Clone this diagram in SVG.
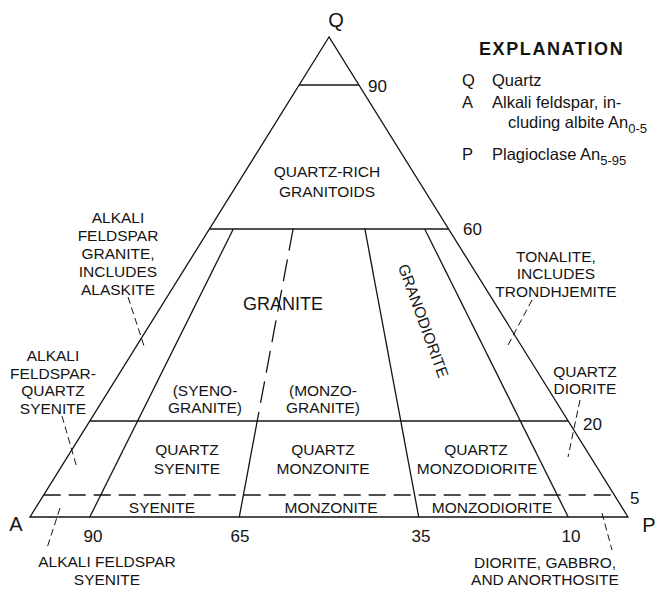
<svg xmlns="http://www.w3.org/2000/svg" width="669" height="594" viewBox="0 0 669 594">
<style>
text{font-family:"Liberation Sans",Arial,sans-serif;fill:#141414}
.l{font-size:15.5px;text-anchor:middle}
.n{font-size:17px}
.nc{font-size:17px;text-anchor:middle}
.v{font-size:20px}
.ex{font-size:16.5px}
.ln{stroke:#141414;stroke-width:1.3;fill:none}
.dash{stroke:#141414;stroke-width:1.3;fill:none;stroke-dasharray:17 8}
.ld{stroke:#141414;stroke-width:1;fill:none;stroke-dasharray:7 4}
</style>
<rect width="669" height="594" fill="#fff"/>
<g id="connectors">
<polygon class="ln" points="329,37 30,517 628,517"/>
<line class="ln" x1="299" y1="85" x2="359" y2="85"/>
<line class="ln" x1="209.4" y1="229" x2="448.6" y2="229"/>
<line class="ln" x1="89.8" y1="421" x2="568.2" y2="421"/>
<line class="dash" x1="43.7" y1="495" x2="614.3" y2="495"/>
<line class="ln" x1="233.3" y1="229" x2="89.8" y2="517"/>
<line class="dash" x1="293.1" y1="229" x2="257.2" y2="421" style="stroke-dasharray:22 9"/>
<line class="ln" x1="257.2" y1="421" x2="239.3" y2="517"/>
<line class="ln" x1="364.9" y1="229" x2="418.7" y2="517"/>
<line class="ln" x1="424.7" y1="229" x2="568.2" y2="517"/>
<line class="ld" x1="128" y1="297" x2="145" y2="349"/>
<line class="ld" x1="62" y1="416" x2="77" y2="468"/>
<line class="ld" x1="60" y1="508" x2="47" y2="548"/>
<line class="ld" x1="532" y1="300" x2="507" y2="347"/>
<line class="ld" x1="580" y1="400" x2="568" y2="457"/>
<line class="ld" x1="602" y1="513" x2="612" y2="550"/>
</g>
<g id="apex-labels">
<text class="v" x="336" y="27" text-anchor="middle">Q</text>
<text class="v" x="16" y="531" text-anchor="middle">A</text>
<text class="v" x="649" y="532" text-anchor="middle">P</text>
</g>
<g id="ticks">
<text class="n" x="368" y="92">90</text>
<text class="n" x="463" y="235">60</text>
<text class="n" x="583" y="430">20</text>
<text class="n" x="630" y="504">5</text>
<text class="nc" x="93" y="542">90</text>
<text class="nc" x="240" y="542">65</text>
<text class="nc" x="421" y="542">35</text>
<text class="nc" x="571" y="542">10</text>
</g>
<g id="explanation">
<text x="479" y="55" style="font-size:18px;font-weight:bold;letter-spacing:1.6px">EXPLANATION</text>
<text class="ex" x="462" y="86">Q</text>
<text class="ex" x="492" y="86">Quartz</text>
<text class="ex" x="462" y="108">A</text>
<text class="ex" x="492" y="108">Alkali feldspar, in-</text>
<text class="ex" x="508" y="128">cluding albite An<tspan dy="5" font-size="13">0-5</tspan></text>
<text class="ex" x="462" y="160">P</text>
<text class="ex" x="492" y="160">Plagioclase An<tspan dy="5" font-size="13">5-95</tspan></text>
</g>
<g id="quartz-rich-granitoids"><text class="l" x="327" y="177">QUARTZ-RICH</text><text class="l" x="327" y="197">GRANITOIDS</text></g>
<g id="alkali-feldspar-granite"><text class="l" x="118" y="223">ALKALI</text><text class="l" x="118" y="241">FELDSPAR</text><text class="l" x="118" y="259">GRANITE,</text><text class="l" x="118" y="277">INCLUDES</text><text class="l" x="118" y="295">ALASKITE</text></g>
<g id="granite"><text x="283" y="310" style="font-size:18px;text-anchor:middle">GRANITE</text></g>
<g id="granodiorite"><text class="l" x="423" y="326" transform="rotate(70 423 321)">GRANODIORITE</text></g>
<g id="tonalite"><text class="l" x="556" y="262">TONALITE,</text><text class="l" x="556" y="279">INCLUDES</text><text class="l" x="556" y="297">TRONDHJEMITE</text></g>
<g id="alkali-feldspar-quartz-syenite"><text class="l" x="53" y="361">ALKALI</text><text class="l" x="53" y="379">FELDSPAR-</text><text class="l" x="53" y="396">QUARTZ</text><text class="l" x="53" y="414">SYENITE</text></g>
<g id="syenogranite"><text class="l" x="205" y="396">(SYENO-</text><text class="l" x="205" y="413">GRANITE)</text></g>
<g id="monzogranite"><text class="l" x="323" y="396">(MONZO-</text><text class="l" x="323" y="413">GRANITE)</text></g>
<g id="quartz-diorite"><text class="l" x="585" y="377">QUARTZ</text><text class="l" x="585" y="394">DIORITE</text></g>
<g id="quartz-syenite"><text class="l" x="187" y="455">QUARTZ</text><text class="l" x="187" y="474">SYENITE</text></g>
<g id="quartz-monzonite"><text class="l" x="323" y="455">QUARTZ</text><text class="l" x="323" y="474">MONZONITE</text></g>
<g id="quartz-monzodiorite"><text class="l" x="476" y="455">QUARTZ</text><text class="l" x="477" y="474">MONZODIORITE</text></g>
<g id="syenite"><text class="l" x="162" y="513">SYENITE</text></g>
<g id="monzonite"><text class="l" x="331" y="513">MONZONITE</text></g>
<g id="monzodiorite"><text class="l" x="492" y="513">MONZODIORITE</text></g>
<g id="alkali-feldspar-syenite"><text class="l" x="107" y="567">ALKALI FELDSPAR</text><text class="l" x="107" y="585">SYENITE</text></g>
<g id="diorite-gabbro-anorthosite"><text class="l" x="545" y="568">DIORITE, GABBRO,</text><text class="l" x="545" y="585">AND ANORTHOSITE</text></g>
</svg>
